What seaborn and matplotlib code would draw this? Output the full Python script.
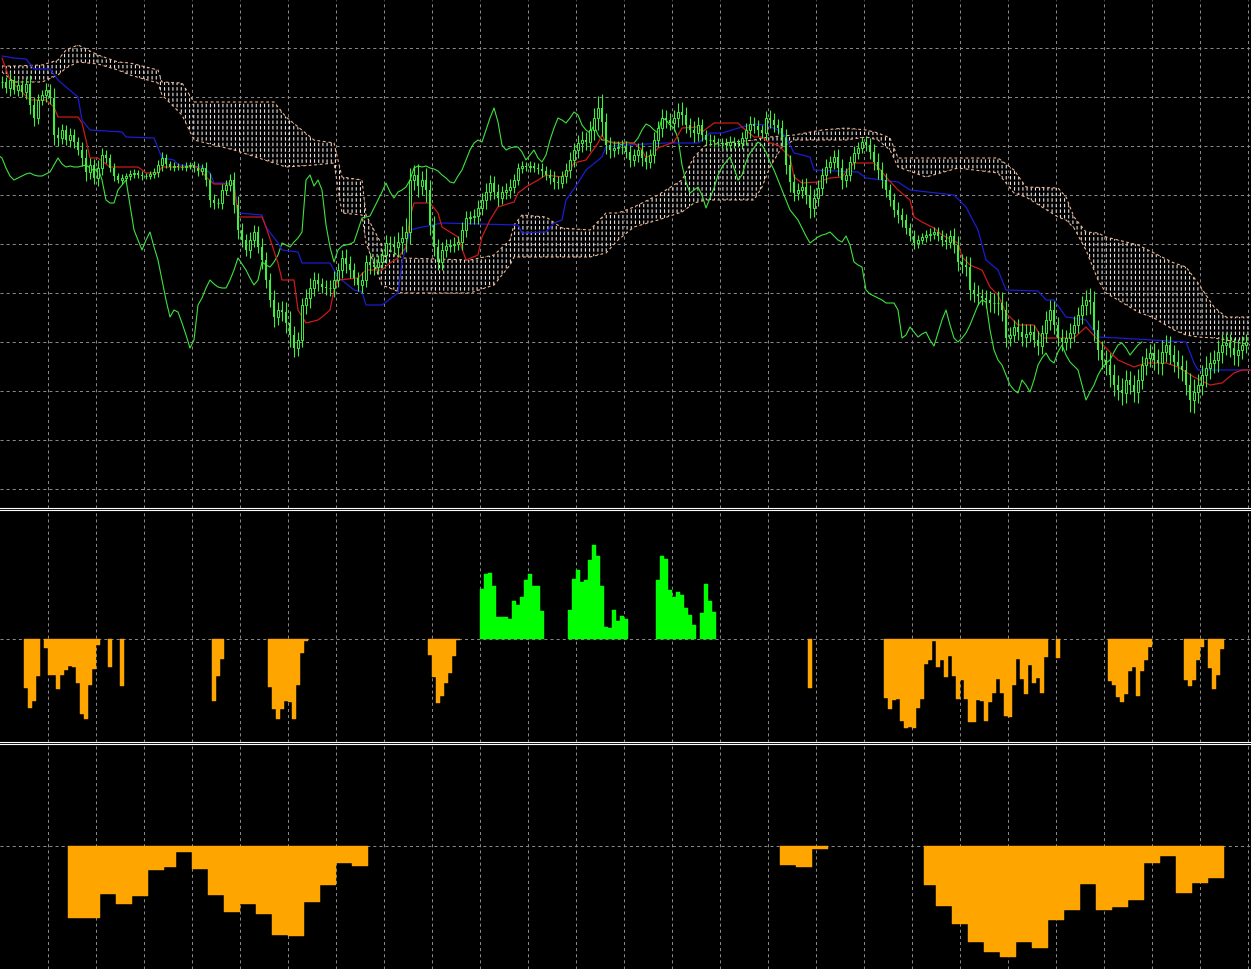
import numpy as np
import matplotlib
matplotlib.use("Agg")
import matplotlib.pyplot as plt
import seaborn as sns

closes = [
    918, 912, 920, 910, 915, 908, 916, 895, 882, 900, 905, 910, 902, 865, 862, 870, 860, 865, 858, 850, 842, 828, 835, 822, 832, 845,
    842, 832, 824, 820, 822, 824, 826, 827, 825, 824, 824, 826, 828, 835, 842, 836, 833, 834, 833, 833, 834, 835, 832, 829, 832, 820,
    800, 797, 797, 810, 815, 820, 795, 770, 760, 750, 760, 768, 753, 740, 720, 700, 683, 690, 688, 677, 665, 652, 660, 695, 702, 712,
    720, 716, 713, 712, 712, 720, 730, 742, 736, 730, 722, 715, 720, 738, 735, 733, 738, 745, 757, 755, 753, 758, 762, 768, 820, 825,
    814, 820, 810, 775, 753, 738, 750, 754, 755, 756, 758, 770, 782, 783, 784, 792, 800, 808, 817, 808, 802, 808, 810, 813, 820, 832,
    834, 833, 834, 832, 831, 829, 825, 822, 818, 817, 824, 830, 840, 850, 857, 860, 858, 870, 882, 892, 878, 855, 850, 852, 853, 853,
    848, 840, 845, 850, 842, 838, 845, 860, 872, 882, 880, 877, 882, 888, 885, 875, 870, 867, 875, 865, 860, 860, 858, 857, 857, 855,
    858, 857, 857, 862, 870, 876, 874, 870, 867, 882, 880, 875, 872, 862, 835, 818, 807, 810, 813, 805, 792, 802, 812, 825, 833, 838,
    843, 832, 820, 825, 838, 847, 852, 858, 855, 848, 838, 830, 820, 810, 800, 790, 785, 780, 772, 764, 757, 760, 763, 765, 766, 768,
    764, 760, 758, 764, 755, 738, 735, 733, 710, 706, 704, 702, 700, 697, 697, 697, 690, 662, 665, 673, 668, 663, 666, 668, 660, 654,
    667, 680, 690, 675, 662, 658, 662, 667, 675, 685, 695, 700, 698, 670, 650, 640, 635, 625, 615, 610, 607, 620, 615, 608, 620, 635,
    642, 647, 640, 637, 648, 655, 645, 638, 634, 630, 615, 600, 608, 615, 625, 632, 637, 640, 648, 655, 657, 652, 645, 650, 655, 658,
]
wicks = [
    6, 5, 8, 4, 6, 5, 7, 9, 8, 6, 5, 7, 6, 10, 8, 6, 5, 7, 6, 5, 8, 9, 7, 6, 8, 7,
    5, 4, 5, 3, 4, 3, 4, 4, 3, 4, 3, 3, 4, 5, 6, 4, 3, 4, 3, 3, 4, 3, 4, 5, 4, 6,
    7, 6, 5, 6, 5, 6, 8, 9, 7, 6, 8, 7, 6, 9, 8, 7, 10, 8, 9, 10, 12, 9, 8, 7, 9, 10,
    8, 7, 6, 7, 8, 9, 7, 8, 9, 8, 7, 6, 8, 7, 9, 8, 7, 6, 8, 7, 9, 10, 12, 14, 12, 10,
    11, 9, 12, 10, 9, 8, 8, 7, 6, 7, 6, 8, 7, 6, 7, 8, 7, 9, 8, 7, 8, 6, 7, 8, 6, 5,
    5, 4, 5, 4, 5, 6, 5, 6, 7, 6, 5, 7, 8, 7, 8, 9, 8, 9, 10, 12, 14, 9, 8, 7, 6, 7,
    6, 7, 6, 7, 8, 7, 6, 8, 7, 9, 8, 7, 8, 9, 10, 8, 7, 9, 8, 6, 5, 6, 5, 4, 5, 5,
    6, 5, 4, 6, 7, 8, 7, 6, 5, 7, 8, 7, 6, 8, 9, 10, 8, 7, 8, 9, 10, 9, 8, 7, 8, 6,
    7, 8, 9, 7, 6, 7, 6, 5, 6, 7, 8, 9, 8, 7, 6, 7, 8, 7, 6, 5, 6, 5, 4, 5, 6, 5,
    5, 6, 7, 6, 8, 9, 8, 9, 10, 8, 9, 7, 8, 9, 10, 12, 11, 9, 8, 7, 8, 9, 10, 8, 7, 9,
    8, 9, 10, 9, 8, 9, 8, 10, 9, 8, 9, 10, 12, 11, 10, 9, 10, 12, 11, 10, 12, 10, 9, 10, 11, 9,
    10, 9, 10, 11, 12, 10, 9, 10, 12, 11, 10, 12, 13, 11, 10, 12, 11, 10, 12, 11, 10, 9, 10, 11, 9, 8,
]

# tenkan (red) and kijun (blue), read at their corners
tenkan_t = [0, 2, 4, 7, 11, 13, 14, 19, 20, 21, 22, 24, 27, 34, 36, 39, 40, 49, 51, 53,
            58, 59, 65, 66, 69, 70, 73, 74, 76, 79, 80, 82, 83, 84, 89, 91, 95, 97, 99, 101,
            102, 103, 107, 109, 110, 114, 116, 119, 120, 122, 124, 128, 129, 131, 134, 136, 140, 142, 143, 146,
            149, 150, 151, 158, 160, 161, 163, 164, 168, 170, 174, 175, 178, 184, 185, 188, 190, 192, 194, 197,
            198, 200, 204, 207, 210, 212, 213, 218, 219, 221, 224, 227, 228, 230, 233, 235, 239, 240, 242, 245,
            247, 249, 251, 254, 258, 260, 268, 271, 274, 279, 283, 286, 291, 294, 298, 302, 305, 308, 310, 312]
tenkan_v = [942, 920, 912, 900, 900, 893, 883, 883, 877, 860, 842, 842, 833, 833, 827, 827, 833, 833, 823, 816,
            816, 783, 783, 773, 737, 720, 720, 690, 677, 680, 683, 690, 710, 720, 722, 730, 730, 737, 742, 753,
            783, 797, 797, 787, 773, 763, 740, 745, 763, 780, 793, 798, 807, 813, 820, 825, 823, 830, 837, 840,
            857, 865, 858, 857, 850, 842, 847, 852, 858, 872, 873, 868, 877, 877, 873, 863, 863, 857, 855, 843,
            823, 817, 818, 822, 823, 833, 837, 837, 833, 823, 810, 800, 783, 778, 772, 765, 757, 743, 735, 730,
            713, 705, 687, 675, 675, 662, 662, 673, 660, 640, 633, 637, 637, 633, 623, 615, 617, 627, 630, 630]
kijun_t = [0, 3, 6, 8, 12, 14, 16, 19, 20, 22, 30, 31, 38, 40, 43, 44, 50, 52, 53, 57,
           58, 59, 65, 66, 69, 70, 74, 75, 82, 84, 88, 90, 91, 95, 99, 100, 102, 104, 110, 129,
           130, 136, 138, 140, 141, 144, 146, 150, 151, 156, 166, 174, 176, 177, 180, 185, 188, 191, 194, 196,
           198, 202, 203, 214, 216, 224, 227, 238, 241, 244, 246, 249, 251, 259, 261, 263, 266, 271, 274, 279,
           296, 298, 299, 312]
kijun_v = [944, 942, 941, 931, 931, 920, 913, 903, 880, 870, 868, 863, 862, 842, 840, 835, 833, 827, 817, 817,
           817, 787, 785, 773, 757, 750, 748, 737, 737, 723, 710, 708, 695, 695, 707, 737, 770, 772, 777, 775,
           767, 768, 777, 780, 800, 817, 830, 843, 853, 855, 857, 857, 863, 867, 867, 873, 876, 875, 870, 863,
           847, 843, 830, 828, 822, 818, 810, 805, 793, 770, 740, 730, 710, 709, 700, 700, 683, 680, 663, 662,
           658, 637, 630, 630]

# cloud edges
cloud_t = [0, 3, 10, 14, 16, 19, 24, 29, 32, 39, 40, 45, 48, 58, 68, 71, 78, 83, 85, 90,
           91, 95, 100, 117, 123, 127, 128, 130, 136, 140, 147, 151, 154, 158, 164, 170, 173, 176, 183, 188,
           190, 192, 195, 198, 205, 211, 216, 219, 222, 224, 231, 239, 249, 253, 256, 264, 266, 268, 271, 274,
           276, 279, 284, 288, 293, 296, 299, 303, 306, 312]
cloud_top = [934, 934, 935, 940, 950, 955, 945, 938, 937, 930, 918, 917, 898, 898, 898, 883, 860, 857, 823, 820,
             785, 755, 742, 740, 745, 760, 775, 785, 783, 772, 770, 787, 787, 793, 805, 820, 843, 855, 858, 860,
             862, 863, 864, 865, 870, 872, 870, 867, 862, 842, 842, 842, 842, 830, 813, 812, 803, 783, 768, 767,
             763, 760, 755, 747, 737, 733, 717, 693, 683, 683]
cloud_bot = [928, 918, 918, 925, 932, 938, 936, 930, 925, 917, 905, 885, 860, 850, 837, 833, 835, 837, 787, 785,
             757, 715, 707, 707, 715, 735, 743, 743, 743, 743, 743, 747, 760, 773, 780, 788, 797, 800, 800, 800,
             813, 833, 853, 860, 860, 860, 863, 860, 850, 833, 823, 832, 827, 807, 803, 783, 780, 772, 750, 720,
             707, 700, 688, 682, 670, 665, 663, 662, 660, 655]

# middle window histogram: first bar of each run -> values
mid_green = {
    120: [50, 65, 66, 53, 22, 22, 22, 20, 38, 34, 42, 59, 65, 53, 53, 28],
    142: [29, 60, 69, 57, 59, 79, 94, 83, 53, 12, 11, 29, 18, 23, 20],
    164: [59, 83, 80, 49, 42, 47, 44, 31, 24, 14],
    175: [26, 55, 38, 27],
}
mid_orange = {
    6: [49, 69, 62, 37],
    11: [9, 36, 36, 50, 36, 31, 27, 28, 44, 75, 80, 46, 30, 6],
    27: [28],
    30: [47],
    53: [62, 37, 20],
    67: [48, 70, 80, 70, 62, 63, 80, 46, 14, 2],
    107: [16, 38, 64, 57, 44, 34, 17, 1],
    202: [49],
    221: [59, 70, 61, 60, 82, 89, 88, 89, 69, 60, 25, 21, 2, 28, 21, 38, 17, 37, 60, 41, 60,
          83, 83, 61, 62, 82, 63, 54, 40, 54, 77, 78, 46, 20, 40, 55, 26, 44, 39, 54, 18],
    264: [19],
    277: [42, 46, 58, 63, 55, 32, 28, 57, 32, 21, 8],
    296: [41, 47, 41, 21, 8],
    302: [29, 50, 36, 10],
}

# lower window, higher timeframe bars (bar where each one opens, last = end)
h4_a_edges = [17, 21, 25, 29, 33, 37, 41, 44, 48, 52, 56, 60, 64, 68, 72, 76, 80, 84, 88, 92]
h4_a_vals = [72, 72, 48, 58, 50, 24, 21, 6, 23, 49, 66, 58, 68, 89, 90, 56, 39, 17, 20]
h4_b_edges = [195, 199, 203, 207]
h4_b_vals = [19, 21, 3]
h4_c_edges = [231, 234, 238, 242, 246, 250, 254, 258, 262, 266, 270, 274, 278, 282, 286, 290, 294, 298, 302, 306]
h4_c_vals = [39, 60, 78, 96, 106, 111, 96, 102, 74, 64, 38, 64, 61, 54, 17, 10, 47, 37, 32]

sns.set_style("dark", {"axes.facecolor": "black", "figure.facecolor": "black"})
plt.rcParams["lines.scale_dashes"] = False
plt.rcParams["hatch.linewidth"] = 0.75

W, H = 1251, 969
fig = plt.figure(figsize=(W / 100, H / 100), dpi=100)
fig.patch.set_facecolor("black")


def px_axes(top, bottom):
    return fig.add_axes([0, 1 - bottom / H, 1, (bottom - top) / H])


ax1 = px_axes(0, 508.3)
ax2 = px_axes(510.3, 742.3)
ax3 = px_axes(744.3, 969)

grid_col = "#8c8c8c"
dash = (0, (2.2, 2.2))
vgrid = np.arange(11.375, 313, 12)

for ax in (ax1, ax2, ax3):
    ax.set_facecolor("black")
    ax.set_xlim(-0.5, 312.25)
    ax.tick_params(length=0, labelbottom=False, labelleft=False)
    ax.set_xticks([])
    ax.set_yticks([])
    ax.grid(False)
    for x in vgrid:
        ax.axvline(x, color=grid_col, lw=0.7, ls=dash, zorder=0)
    for s in ax.spines.values():
        s.set_visible(False)

ax1.set_ylim(491.7, 1000)
ax2.set_ylim(-103, 129)
ax3.set_ylim(-122.7, 102)
for y in np.arange(510.7, 960, 49):
    ax1.axhline(y, color=grid_col, lw=0.7, ls=dash, zorder=0)
ax2.axhline(0, color=grid_col, lw=0.7, ls=dash, zorder=0)
ax3.axhline(0, color=grid_col, lw=0.7, ls=dash, zorder=0)

for ax, sides in ((ax1, ["bottom"]), (ax2, ["top", "bottom"]), (ax3, ["top"])):
    for sd in sides:
        ax.spines[sd].set_visible(True)
        ax.spines[sd].set_color("white")
        ax.spines[sd].set_linewidth(0.8)

# --- cloud: dotted vertical hatching ---
ax1.fill_between(cloud_t, cloud_bot, cloud_top, facecolor="none", edgecolor="#f6eeee",
                 hatch="||||", linewidth=0, zorder=1)
cut = ax1.fill_between(cloud_t, cloud_bot, cloud_top, facecolor="none", edgecolor="black",
                       hatch="---", linewidth=0, zorder=1.1)
if hasattr(cut, "set_hatch_linewidth"):
    cut.set_hatch_linewidth(1.5)
else:
    cut.set_hatch("-----")
sns.lineplot(x=cloud_t, y=cloud_top, ax=ax1, color="#f2b48e", lw=0.8, ls=(0, (2, 2)),
             sort=False, estimator=None, zorder=1.2)
sns.lineplot(x=cloud_t, y=cloud_bot, ax=ax1, color="#f2b48e", lw=0.8, ls=(0, (2, 2)),
             sort=False, estimator=None, zorder=1.2)

# --- candles ---
green = "#3cf03c"
idx = np.arange(len(closes))
c = np.array(closes, float)
o = np.r_[c[0], c[:-1]]
w = np.array(wicks)
hi = np.maximum(o, c) + w
lo = np.minimum(o, c) - w
up = c >= o

sns.lineplot(x=idx - 26, y=c, ax=ax1, color="#3ee23e", lw=0.8, sort=False, estimator=None, zorder=2)
sns.lineplot(x=kijun_t, y=kijun_v, ax=ax1, color="#1c1cd2", lw=0.9, sort=False, estimator=None, zorder=2.5)
sns.lineplot(x=tenkan_t, y=tenkan_v, ax=ax1, color="#cc1a1a", lw=0.9, sort=False, estimator=None, zorder=2.6)

ax1.vlines(idx, lo, hi, color=green, lw=0.8, zorder=3)
ax1.bar(idx[up], (c - o)[up], bottom=o[up], width=0.7, facecolor="black",
        edgecolor=green, linewidth=0.7, zorder=4)
ax1.bar(idx[~up], (o - c)[~up], bottom=c[~up], width=0.7, color=green, linewidth=0, zorder=4)

# --- middle histogram ---
for start, vals in mid_green.items():
    ax2.bar(np.arange(start, start + len(vals)), vals, width=1.0, color="#00ff00",
            edgecolor="#00ff00", linewidth=0.3, zorder=2)
for start, vals in mid_orange.items():
    ax2.bar(np.arange(start, start + len(vals)), -np.array(vals), width=1.0, color="#ffa500",
            edgecolor="#ffa500", linewidth=0.3, zorder=2)

# --- lower histogram ---
for edges, vals in ((h4_a_edges, h4_a_vals), (h4_b_edges, h4_b_vals), (h4_c_edges, h4_c_vals)):
    e = np.array(edges, float)
    ax3.bar(e[:-1] - 0.5, -np.array(vals), width=np.diff(e), align="edge", color="#ffa500",
            edgecolor="#ffa500", linewidth=0.3, zorder=2)

fig.savefig("out.png", dpi=100, facecolor="black")
